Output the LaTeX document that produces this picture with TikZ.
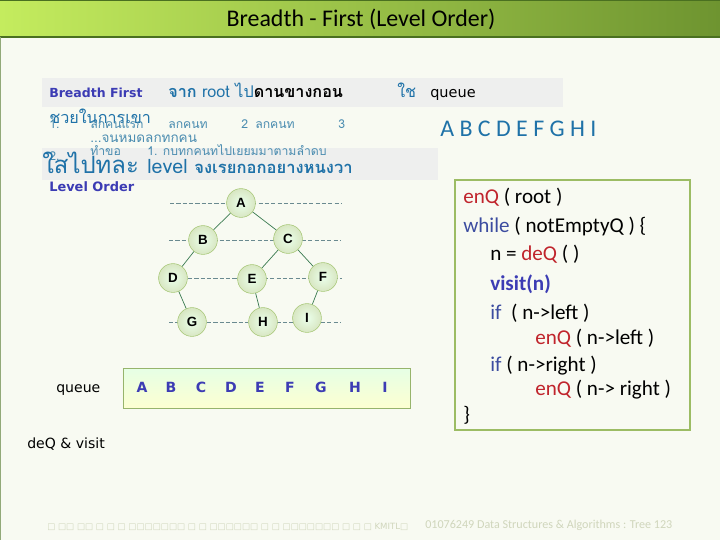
\documentclass[tikz,border=0pt]{standalone}
\usepackage{fontspec}
\setmainfont{Carlito}
\newfontfamily\thaifont[Script=Thai]{Loma}
\newfontfamily\tahomafont{DejaVu Sans}
\newfontfamily\arialfont{Liberation Sans}
\definecolor{pagebg}{HTML}{F8FAF2}
\definecolor{barleft}{HTML}{C4EC5E}
\definecolor{barright}{HTML}{6E9430}
\definecolor{barline}{HTML}{4A7020}
\definecolor{bandgray}{HTML}{EEEFEE}
\definecolor{deepblue}{HTML}{3C3CB4}
\definecolor{thaiteal}{HTML}{1F72A8}
\definecolor{softteal}{HTML}{4A8CB0}
\definecolor{nodeedge}{HTML}{A8C878}
\definecolor{branchc}{HTML}{3A7A50}
\definecolor{levelc}{HTML}{6A8A90}
\definecolor{codered}{HTML}{C0242C}
\definecolor{codeblue}{HTML}{3C4CA0}
\definecolor{codeframe}{HTML}{9CBC64}
\definecolor{footc}{HTML}{D0D6BC}

\begin{document}
\begin{tikzpicture}[x=0.025cm, y=-0.025cm,
  treenode/.style={circle, draw=nodeedge, inner color=green!8!white, outer color=nodeedge!45!white,
    minimum size=0.72cm, inner sep=0pt, font=\arialfont\bfseries\fontsize{9.5}{9.5}\selectfont},
  branch/.style={draw=branchc, line width=0.5pt},
  levelline/.style={draw=levelc, dash pattern=on 3pt off 1.5pt, line width=0.6pt},
  txt/.style={anchor=base west, inner sep=0pt},
  small/.style={txt, text=softteal, font=\thaifont\fontsize{8.7}{9}\selectfont},
  qletter/.style={anchor=base, inner sep=0pt, text=deepblue, font=\tahomafont\bfseries\fontsize{10}{10}\selectfont},
  code/.style={txt, font=\fontsize{15}{15}\selectfont}]
  % page and title bar
  \fill[pagebg] (0,0) rectangle (720,540);
  \useasboundingbox (0,0) rectangle (720,540);
  \shade[left color=barleft, right color=barright] (0,0) rectangle (720,37);
  \draw[barline, line width=1pt] (0,0.6) -- (720,0.6);
  \draw[barline, line width=1pt] (0,37) -- (720,37);
  \draw[barline!60, line width=0.5pt] (0.3,37) -- (0.3,540);
  \node[font=\fontsize{17}{17}\selectfont] (title) at (361,19) {Breadth - First (Level Order)};

  % grey bands behind the text
  \fill[bandgray] (42,78) rectangle (563,107);
  \fill[bandgray] (42,148) rectangle (438,180);

  % text lines (overlapping as printed)
  \node[txt, text=deepblue, font=\tahomafont\bfseries\fontsize{8.9}{9}\selectfont] (bf) at (49,97) {Breadth First};
  \node[txt, font=\thaifont\fontsize{11.5}{12}\selectfont] (jak) at (168,97)
    {\textcolor{thaiteal}{\bfseries จาก} \textcolor{thaiteal}{root} \textcolor{thaiteal}{ไป}\bfseries ดานขางกอน};
  \node[txt, text=thaiteal, font=\thaifont\fontsize{11.5}{12}\selectfont] (chai) at (397,97) {ใช};
  \node[txt, font=\tahomafont\fontsize{10.3}{11}\selectfont] (qword) at (430,97) {queue};

  \node[txt, text=thaiteal, font=\thaifont\fontsize{11.5}{12}\selectfont] (chuai) at (49,123) {ชวยในการเขา};
  \node[small] (one) at (49,128) {1.};
  \node[small] (kid1) at (90,128) {ลกคนแรก};
  \node[small] (kid2) at (168,128) {ลกคนท};
  \node[small] (kid2n) at (241,128) {2};
  \node[small] (kid3) at (255,128) {ลกคนท};
  \node[small] (kid3n) at (338,128) {3};
  \node[small, font=\thaifont\fontsize{9.6}{10}\selectfont] (allkids) at (90,142) {...จนหมดลกทกคน};
  \node[small] (two) at (49,160) {2.};
  \node[small] (redo) at (90,155) {ทำขอ};
  \node[small] (withall) at (147,155) {1. กบทกคนทไปเยยมมาตามลำดบ};
  \node[txt, text=thaiteal, font=\thaifont\fontsize{17}{17}\selectfont] (put) at (42,173) {ใสไปทละ};
  \node[txt, text=thaiteal, font=\thaifont\fontsize{14}{14}\selectfont] (lvl) at (147,173)
    {level {\bfseries\fontsize{11.8}{12}\selectfont จงเรยกอกอยางหนงวา}};
  \node[txt, text=deepblue, font=\tahomafont\bfseries\fontsize{9.2}{10}\selectfont] (lo) at (49,191) {Level Order};

  \node[txt, text=thaiteal, font=\fontsize{17}{17}\selectfont] (abc) at (440,136) {A B C D E F G H I};

  % dashed level lines
  \draw[levelline] (170,203) -- (342,203);
  \draw[levelline] (169,240) -- (341,240);
  \draw[levelline] (188,278) -- (342,278);
  \draw[levelline] (169,322) -- (340,322);

  % tree
  \node[treenode] (A) at (241,203) {A};
  \node[treenode] (B) at (203,240) {B};
  \node[treenode] (C) at (288,239) {C};
  \node[treenode] (D) at (173,278) {D};
  \node[treenode] (E) at (252,279) {E};
  \node[treenode] (F) at (323,277) {F};
  \node[treenode] (G) at (192,322) {G};
  \node[treenode] (H) at (263,322) {H};
  \node[treenode] (I) at (307,318) {I};
  \draw[branch] (A) -- (B);
  \draw[branch] (A) -- (C);
  \draw[branch] (B) -- (D);
  \draw[branch] (C) -- (E);
  \draw[branch] (C) -- (F);
  \draw[branch] (D) -- (G);
  \draw[branch] (E) -- (H);
  \draw[branch] (F) -- (I);

  % queue
  \node[txt, font=\tahomafont\fontsize{10}{10}\selectfont] (qlabel) at (56,392) {queue};
  \node[draw=nodeedge!90!black, top color=green!10!white, bottom color=green!5!yellow!18!white,
    minimum width=7.175cm, minimum height=1cm, inner sep=0pt] (qbox) at (266.5,388) {};
  \foreach \ch/\xx in {A/142,B/171,C/201,D/231,E/260,F/290,G/321,H/355,I/385}
    \node[qletter] (q\ch) at (\xx,392) {\ch};
  \node[txt, font=\tahomafont\fontsize{10}{10}\selectfont] (dq) at (27,448) {deQ \& visit};

  % pseudo code
  \draw[codeframe, line width=1.8pt] (455,180) rectangle (690,430);
  \node[code] (c1) at (463,203) {\textcolor{codered}{enQ} ( root )};
  \node[code] (c2) at (463,232) {\textcolor{codeblue}{while} ( notEmptyQ ) \{};
  \node[code] (c3) at (490,260) {n = \textcolor{codered}{deQ} ( )};
  \node[code, text=deepblue] (c4) at (490,290) {\bfseries visit(n)};
  \node[code] (c5) at (490,319) {\textcolor{codeblue}{if}~ ( n->left )};
  \node[code] (c6) at (535,344) {\textcolor{codered}{enQ} ( n->left )};
  \node[code] (c7) at (490,371) {\textcolor{codeblue}{if} ( n->right )};
  \node[code] (c8) at (535,395) {\textcolor{codered}{enQ} ( n-> right )};
  \node[code] (c9) at (463,421) {\}};

  % footer
  \node[txt, text=footc, font=\tahomafont\fontsize{6.1}{7}\selectfont] (foot) at (47,529)
    {□ □□ □□ □ □ □ □□□□□□□ □ □ □□□□□□ □ □ □□□□□□□ □ □ □ KMITL□};
  \node[txt, text=footc, font=\fontsize{8.6}{9}\selectfont] (course) at (425,528)
    {01076249 Data Structures \& Algorithms : Tree 123};
\end{tikzpicture}
\end{document}
